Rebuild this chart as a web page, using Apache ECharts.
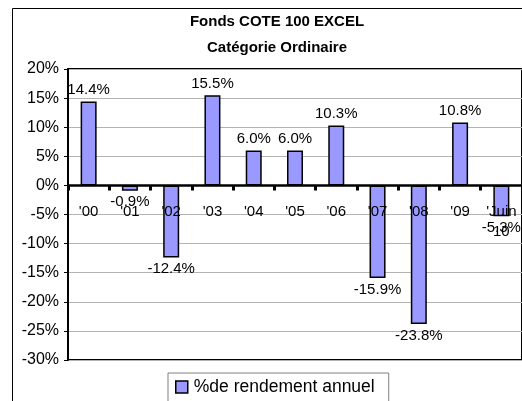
<!DOCTYPE html>
<html>
<head>
<meta charset="utf-8">
<script src="https://cdn.jsdelivr.net/npm/echarts@6/dist/echarts.min.js"></script>
<style>
html,body{margin:0;padding:0;background:#fff;}
#main{width:522px;height:401px;}
</style>
</head>
<body>
<div id="main"></div>
<script>
var categories = ["'00", "'01", "'02", "'03", "'04", "'05", "'06", "'07", "'08", "'09", "'Juin\n10"];
var rendement = [14.4, -0.9, -12.4, 15.5, 6.0, 6.0, 10.3, -15.9, -23.8, 10.8, -5.3];
var yTicks = [-30, 20, 5];

var myChart = echarts.init(document.getElementById('main'));

// barres négatives : étiquette sous la barre
var barData = rendement.map(function (v) {
  return {
    value: v,
    label: { position: v < 0 ? 'bottom' : 'top' }
  };
});

var font = 'Liberation Sans, Arial, sans-serif';

var option = {
  animation: false,
  title: {
    text: 'Fonds COTE 100 EXCEL\nCatégorie Ordinaire',
    left: 272,
    top: 4,
    textAlign: 'center',
    textStyle: {
      fontFamily: font,
      fontSize: 15,
      fontWeight: 'bold',
      color: '#000',
      lineHeight: 26
    }
  },
  legend: {
    data: ['%de rendement annuel'],
    left: 168,
    top: 373,
    padding: [5, 14, 8, 7],
    borderColor: '#808080',
    borderWidth: 1,
    icon: 'rect',
    itemWidth: 12,
    itemHeight: 12,
    itemGap: 4,
    itemStyle: { borderColor: '#000', borderWidth: 1.5 },
    textStyle: { fontFamily: font, fontSize: 17.5, color: '#000', padding: [0, 0, 0, 1] }
  },
  graphic: [{
    type: 'rect',
    shape: { x: 12.5, y: 8.5, width: 600, height: 500 },
    style: { fill: 'none', stroke: '#000', lineWidth: 1 },
    silent: true
  }],
  grid: {
    left: 68,
    top: 69,
    width: 462,
    height: 291,
    show: true,
    borderColor: '#000',
    borderWidth: 2,
    backgroundColor: '#fff'
  },
  xAxis: {
    type: 'category',
    data: categories,
    z: 5,
    axisLine: { onZero: true, lineStyle: { color: '#000', width: 2.5 } },
    axisTick: { show: true, length: 5, lineStyle: { color: '#000', width: 3 } },
    axisLabel: {
      color: '#000',
      fontFamily: font,
      fontSize: 15,
      // étiquettes remontées juste sous la ligne du zéro
      margin: -158,
      interval: 0,
      lineHeight: 20
    },
    splitLine: { show: false }
  },
  yAxis: {
    type: 'value',
    min: yTicks[0],
    max: yTicks[1],
    interval: yTicks[2],
    axisLine: { show: true, lineStyle: { color: '#000', width: 2 } },
    axisTick: { show: true, length: 4, lineStyle: { color: '#000', width: 1 } },
    axisLabel: {
      color: '#000',
      fontFamily: font,
      fontSize: 16,
      margin: 9,
      formatter: '{value}%'
    },
    splitLine: { show: true, lineStyle: { color: '#b3b3b3', width: 1 } }
  },
  series: [{
    name: '%de rendement annuel',
    type: 'bar',
    data: barData,
    barWidth: 16,
    itemStyle: { color: '#9999ff', borderColor: '#000', borderWidth: 1.5 },
    label: {
      show: true,
      distance: 4,
      color: '#000',
      fontFamily: font,
      fontSize: 15,
      formatter: function (p) { return p.value.toFixed(1) + '%'; }
    }
  }]
};

myChart.setOption(option);
</script>
</body>
</html>
